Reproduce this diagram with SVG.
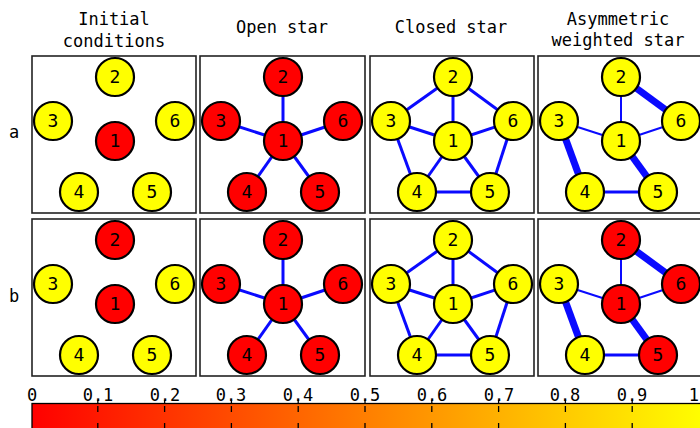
<svg xmlns="http://www.w3.org/2000/svg" width="700" height="428" viewBox="0 0 700 428">
<style>
.t{font-family:"DejaVu Sans Mono","Liberation Mono",monospace;font-size:17px;fill:#000;text-anchor:middle}
.panel{fill:#fff;stroke:#222;stroke-width:1.6}
.r{fill:#ff0000;stroke:#000;stroke-width:2.2}
.y{fill:#ffff00;stroke:#000;stroke-width:2.2}
.n{font-family:"DejaVu Sans Mono","Liberation Mono",monospace;font-size:18px;fill:#000;text-anchor:middle}
.e{stroke:#0a0aff;stroke-width:3;stroke-linecap:butt}
.thin{stroke-width:2}
.thick{stroke-width:7}
.tick{stroke:#000;stroke-width:1.3}
</style>
<defs>
<linearGradient id="cb" x1="0" y1="0" x2="1" y2="0">
<stop offset="0" stop-color="#ff0000"/>
<stop offset="1" stop-color="#ffff00"/>
</linearGradient>
</defs>
<rect width="700" height="428" fill="#fff"/>
<g id="titles">
<text class="t" x="114" y="25">Initial</text>
<text class="t" x="114" y="47">conditions</text>
<text class="t" x="282" y="33">Open star</text>
<text class="t" x="451" y="33">Closed star</text>
<text class="t" x="618" y="25">Asymmetric</text>
<text class="t" x="618" y="46">weighted star</text>
<text class="t" x="14" y="138">a</text>
<text class="t" x="14" y="302">b</text>
</g>
<g id="panels">
<rect class="panel" x="32" y="56" width="164" height="157"/>
<rect class="panel" x="200" y="56" width="165" height="157"/>
<rect class="panel" x="370" y="56" width="164" height="157"/>
<rect class="panel" x="538" y="56" width="166" height="157"/>
<rect class="panel" x="32" y="219" width="164" height="157"/>
<rect class="panel" x="200" y="219" width="165" height="157"/>
<rect class="panel" x="370" y="219" width="164" height="157"/>
<rect class="panel" x="538" y="219" width="166" height="157"/>
</g>
<g id="connectors">
<line class="e" x1="283" y1="141" x2="283" y2="77"/>
<line class="e" x1="283" y1="141" x2="221" y2="121"/>
<line class="e" x1="283" y1="141" x2="343" y2="121"/>
<line class="e" x1="283" y1="141" x2="247" y2="192"/>
<line class="e" x1="283" y1="141" x2="320" y2="192"/>
<line class="e" x1="453" y1="141" x2="453" y2="77"/>
<line class="e" x1="453" y1="141" x2="391" y2="121"/>
<line class="e" x1="453" y1="141" x2="513" y2="121"/>
<line class="e" x1="453" y1="141" x2="417" y2="192"/>
<line class="e" x1="453" y1="141" x2="490" y2="192"/>
<line class="e" x1="453" y1="77" x2="391" y2="121"/>
<line class="e" x1="391" y1="121" x2="417" y2="192"/>
<line class="e" x1="417" y1="192" x2="490" y2="192"/>
<line class="e" x1="490" y1="192" x2="513" y2="121"/>
<line class="e" x1="513" y1="121" x2="453" y2="77"/>
<line class="e thin" x1="621" y1="141" x2="621" y2="77"/>
<line class="e thin" x1="621" y1="141" x2="559" y2="121"/>
<line class="e thin" x1="621" y1="141" x2="681" y2="121"/>
<line class="e thick" x1="621" y1="141" x2="658" y2="192"/>
<line class="e thick" x1="621" y1="77" x2="681" y2="121"/>
<line class="e thick" x1="559" y1="121" x2="585" y2="192"/>
<line class="e" x1="585" y1="192" x2="658" y2="192"/>
<line class="e" x1="283" y1="304" x2="283" y2="240"/>
<line class="e" x1="283" y1="304" x2="221" y2="284"/>
<line class="e" x1="283" y1="304" x2="343" y2="284"/>
<line class="e" x1="283" y1="304" x2="247" y2="355"/>
<line class="e" x1="283" y1="304" x2="320" y2="355"/>
<line class="e" x1="453" y1="304" x2="453" y2="240"/>
<line class="e" x1="453" y1="304" x2="391" y2="284"/>
<line class="e" x1="453" y1="304" x2="513" y2="284"/>
<line class="e" x1="453" y1="304" x2="417" y2="355"/>
<line class="e" x1="453" y1="304" x2="490" y2="355"/>
<line class="e" x1="453" y1="240" x2="391" y2="284"/>
<line class="e" x1="391" y1="284" x2="417" y2="355"/>
<line class="e" x1="417" y1="355" x2="490" y2="355"/>
<line class="e" x1="490" y1="355" x2="513" y2="284"/>
<line class="e" x1="513" y1="284" x2="453" y2="240"/>
<line class="e thin" x1="621" y1="304" x2="621" y2="240"/>
<line class="e thin" x1="621" y1="304" x2="559" y2="284"/>
<line class="e thin" x1="621" y1="304" x2="681" y2="284"/>
<line class="e thick" x1="621" y1="304" x2="658" y2="355"/>
<line class="e thick" x1="621" y1="240" x2="681" y2="284"/>
<line class="e thick" x1="559" y1="284" x2="585" y2="355"/>
<line class="e" x1="585" y1="355" x2="658" y2="355"/>
</g>
<!-- Row a, panel 1 -->
<g id="a1-n1"><circle class="r" cx="115" cy="141" r="19"/><text class="n" x="115" y="147">1</text></g>
<g id="a1-n2"><circle class="y" cx="115" cy="77" r="19"/><text class="n" x="115" y="83">2</text></g>
<g id="a1-n3"><circle class="y" cx="53" cy="121" r="19"/><text class="n" x="53" y="127">3</text></g>
<g id="a1-n4"><circle class="y" cx="79" cy="192" r="19"/><text class="n" x="79" y="198">4</text></g>
<g id="a1-n5"><circle class="y" cx="152" cy="192" r="19"/><text class="n" x="152" y="198">5</text></g>
<g id="a1-n6"><circle class="y" cx="175" cy="121" r="19"/><text class="n" x="175" y="127">6</text></g>
<!-- Row a, panel 2 -->
<g id="a2-n1"><circle class="r" cx="283" cy="141" r="19"/><text class="n" x="283" y="147">1</text></g>
<g id="a2-n2"><circle class="r" cx="283" cy="77" r="19"/><text class="n" x="283" y="83">2</text></g>
<g id="a2-n3"><circle class="r" cx="221" cy="121" r="19"/><text class="n" x="221" y="127">3</text></g>
<g id="a2-n4"><circle class="r" cx="247" cy="192" r="19"/><text class="n" x="247" y="198">4</text></g>
<g id="a2-n5"><circle class="r" cx="320" cy="192" r="19"/><text class="n" x="320" y="198">5</text></g>
<g id="a2-n6"><circle class="r" cx="343" cy="121" r="19"/><text class="n" x="343" y="127">6</text></g>
<!-- Row a, panel 3 -->
<g id="a3-n1"><circle class="y" cx="453" cy="141" r="19"/><text class="n" x="453" y="147">1</text></g>
<g id="a3-n2"><circle class="y" cx="453" cy="77" r="19"/><text class="n" x="453" y="83">2</text></g>
<g id="a3-n3"><circle class="y" cx="391" cy="121" r="19"/><text class="n" x="391" y="127">3</text></g>
<g id="a3-n4"><circle class="y" cx="417" cy="192" r="19"/><text class="n" x="417" y="198">4</text></g>
<g id="a3-n5"><circle class="y" cx="490" cy="192" r="19"/><text class="n" x="490" y="198">5</text></g>
<g id="a3-n6"><circle class="y" cx="513" cy="121" r="19"/><text class="n" x="513" y="127">6</text></g>
<!-- Row a, panel 4 -->
<g id="a4-n1"><circle class="y" cx="621" cy="141" r="19"/><text class="n" x="621" y="147">1</text></g>
<g id="a4-n2"><circle class="y" cx="621" cy="77" r="19"/><text class="n" x="621" y="83">2</text></g>
<g id="a4-n3"><circle class="y" cx="559" cy="121" r="19"/><text class="n" x="559" y="127">3</text></g>
<g id="a4-n4"><circle class="y" cx="585" cy="192" r="19"/><text class="n" x="585" y="198">4</text></g>
<g id="a4-n5"><circle class="y" cx="658" cy="192" r="19"/><text class="n" x="658" y="198">5</text></g>
<g id="a4-n6"><circle class="y" cx="681" cy="121" r="19"/><text class="n" x="681" y="127">6</text></g>
<!-- Row b, panel 1 -->
<g id="b1-n1"><circle class="r" cx="115" cy="304" r="19"/><text class="n" x="115" y="310">1</text></g>
<g id="b1-n2"><circle class="r" cx="115" cy="240" r="19"/><text class="n" x="115" y="246">2</text></g>
<g id="b1-n3"><circle class="y" cx="53" cy="284" r="19"/><text class="n" x="53" y="290">3</text></g>
<g id="b1-n4"><circle class="y" cx="79" cy="355" r="19"/><text class="n" x="79" y="361">4</text></g>
<g id="b1-n5"><circle class="y" cx="152" cy="355" r="19"/><text class="n" x="152" y="361">5</text></g>
<g id="b1-n6"><circle class="y" cx="175" cy="284" r="19"/><text class="n" x="175" y="290">6</text></g>
<!-- Row b, panel 2 -->
<g id="b2-n1"><circle class="r" cx="283" cy="304" r="19"/><text class="n" x="283" y="310">1</text></g>
<g id="b2-n2"><circle class="r" cx="283" cy="240" r="19"/><text class="n" x="283" y="246">2</text></g>
<g id="b2-n3"><circle class="r" cx="221" cy="284" r="19"/><text class="n" x="221" y="290">3</text></g>
<g id="b2-n4"><circle class="r" cx="247" cy="355" r="19"/><text class="n" x="247" y="361">4</text></g>
<g id="b2-n5"><circle class="r" cx="320" cy="355" r="19"/><text class="n" x="320" y="361">5</text></g>
<g id="b2-n6"><circle class="r" cx="343" cy="284" r="19"/><text class="n" x="343" y="290">6</text></g>
<!-- Row b, panel 3 -->
<g id="b3-n1"><circle class="y" cx="453" cy="304" r="19"/><text class="n" x="453" y="310">1</text></g>
<g id="b3-n2"><circle class="y" cx="453" cy="240" r="19"/><text class="n" x="453" y="246">2</text></g>
<g id="b3-n3"><circle class="y" cx="391" cy="284" r="19"/><text class="n" x="391" y="290">3</text></g>
<g id="b3-n4"><circle class="y" cx="417" cy="355" r="19"/><text class="n" x="417" y="361">4</text></g>
<g id="b3-n5"><circle class="y" cx="490" cy="355" r="19"/><text class="n" x="490" y="361">5</text></g>
<g id="b3-n6"><circle class="y" cx="513" cy="284" r="19"/><text class="n" x="513" y="290">6</text></g>
<!-- Row b, panel 4 -->
<g id="b4-n1"><circle class="r" cx="621" cy="304" r="19"/><text class="n" x="621" y="310">1</text></g>
<g id="b4-n2"><circle class="r" cx="621" cy="240" r="19"/><text class="n" x="621" y="246">2</text></g>
<g id="b4-n3"><circle class="y" cx="559" cy="284" r="19"/><text class="n" x="559" y="290">3</text></g>
<g id="b4-n4"><circle class="y" cx="585" cy="355" r="19"/><text class="n" x="585" y="361">4</text></g>
<g id="b4-n5"><circle class="r" cx="658" cy="355" r="19"/><text class="n" x="658" y="361">5</text></g>
<g id="b4-n6"><circle class="r" cx="681" cy="284" r="19"/><text class="n" x="681" y="290">6</text></g>
<g id="colorbar">
<rect x="32" y="403.5" width="672" height="30" fill="url(#cb)" stroke="#000" stroke-width="1.3"/>
<g class="ticks">
<path class="tick" d="M97.8 400v3M97.8 406v6M97.8 423v6M164.6 400v3M164.6 406v6M164.6 423v6M231.4 400v3M231.4 406v6M231.4 423v6M298.2 400v3M298.2 406v6M298.2 423v6M365 400v3M365 406v6M365 423v6M431.8 400v3M431.8 406v6M431.8 423v6M498.6 400v3M498.6 406v6M498.6 423v6M565.4 400v3M565.4 406v6M565.4 423v6M632.2 400v3M632.2 406v6M632.2 423v6"/>
</g>
<text class="t" x="32" y="401">0</text>
<text class="t" x="98" y="401">0.1</text>
<text class="t" x="165" y="401">0.2</text>
<text class="t" x="231" y="401">0.3</text>
<text class="t" x="298" y="401">0.4</text>
<text class="t" x="365" y="401">0.5</text>
<text class="t" x="432" y="401">0.6</text>
<text class="t" x="499" y="401">0.7</text>
<text class="t" x="565" y="401">0.8</text>
<text class="t" x="632" y="401">0.9</text>
<text class="t" x="699" y="401" style="text-anchor:end">1</text>
</g>
</svg>
